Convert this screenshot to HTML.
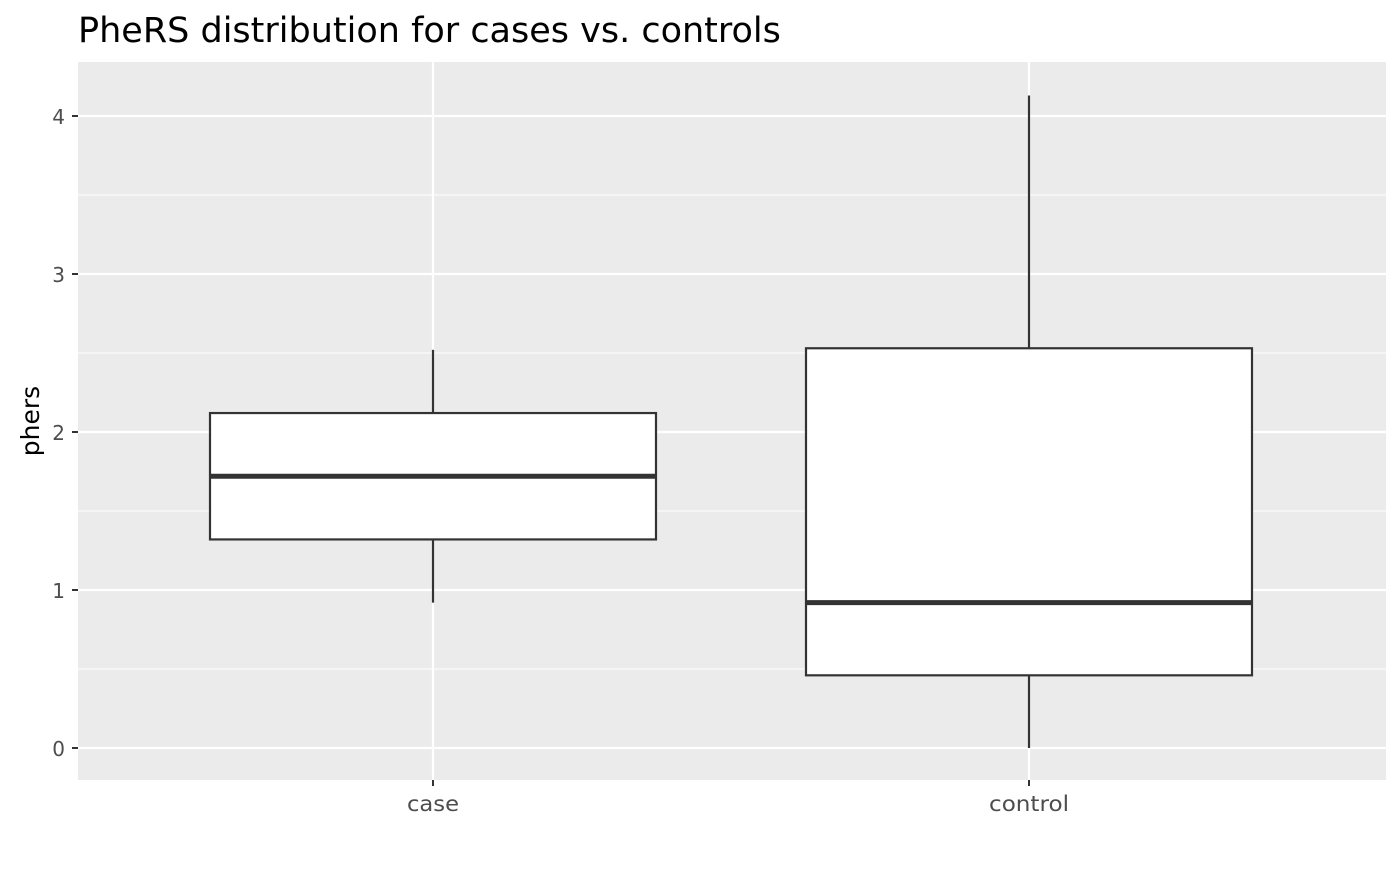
<!DOCTYPE html>
<html><head><meta charset="utf-8"><style>
body{margin:0;background:#fff;font-family:"DejaVu Sans",sans-serif}
</style></head><body>
<svg width="1400" height="865" xmlns="http://www.w3.org/2000/svg" font-family="DejaVu Sans, sans-serif">
<text x="78" y="42" font-size="35" fill="#000">PheRS distribution for cases vs. controls</text>
<rect x="78" y="62" width="1308" height="718" fill="#ebebeb"/>
<g id="grid"></g><g id="boxes"></g><g id="axes"></g>
<text transform="translate(39,421) rotate(-90)" text-anchor="middle" font-size="25" fill="#000">phers</text>
<script>
const categories=["case","control"];
const whiskerLow=[0.92,0.0];
const q1=[1.32,0.46];
const median=[1.72,0.92];
const q3=[2.12,2.53];
const whiskerHigh=[2.52,4.13];
const yTicks=[0,1,2,3,4];
const NS="http://www.w3.org/2000/svg";
const y=v=>748-v*158;
const xc=i=>433+i*596;
const halfW=223;
const labelW={case:52,control:80};
function mk(tag,attrs,parent){const e=document.createElementNS(NS,tag);for(const k in attrs)e.setAttribute(k,attrs[k]);parent.appendChild(e);return e;}
const grid=document.getElementById('grid'),boxes=document.getElementById('boxes'),axes=document.getElementById('axes');
for(let v=-0.5;v<=4.5;v+=1){const yy=y(v);if(yy<62||yy>780)continue;const l=mk('line',{x1:78,x2:1386,y1:yy,y2:yy,stroke:'#fff','stroke-width':1.1},grid);

}
yTicks.forEach(v=>{const l=mk('line',{x1:78,x2:1386,y1:y(v),y2:y(v),stroke:'#fff','stroke-width':2.2},grid);


const t=mk('line',{x1:72,x2:78,y1:y(v),y2:y(v),stroke:'#333','stroke-width':2},axes);


const tx=mk('text',{x:65,y:y(v)+8,'text-anchor':'end','font-size':20,fill:'#4d4d4d'},axes);tx.textContent=v;

});
categories.forEach((c,i)=>{const x=xc(i);
const g=mk('line',{x1:x,x2:x,y1:62,y2:780,stroke:'#fff','stroke-width':2.2},grid);


const t=mk('line',{x1:x,x2:x,y1:780,y2:786,stroke:'#333','stroke-width':2},axes);


const tx=mk('text',{x:x,y:811,'text-anchor':'middle','font-size':21,fill:'#4d4d4d',textLength:labelW[c]||60,lengthAdjust:'spacingAndGlyphs'},axes);tx.textContent=c;


const w1=mk('line',{x1:x,x2:x,y1:y(whiskerHigh[i]),y2:y(q3[i]),stroke:'#333','stroke-width':2.2},boxes);


const w2=mk('line',{x1:x,x2:x,y1:y(q1[i]),y2:y(whiskerLow[i]),stroke:'#333','stroke-width':2.2},boxes);


const r=mk('rect',{x:x-halfW,y:y(q3[i]),width:2*halfW,height:y(q1[i])-y(q3[i]),fill:'#fff',stroke:'#333','stroke-width':2.2},boxes);


const m=mk('line',{x1:x-halfW,x2:x+halfW,y1:y(median[i]),y2:y(median[i]),stroke:'#333','stroke-width':5},boxes);

});
</script>
</svg>
</body></html>
